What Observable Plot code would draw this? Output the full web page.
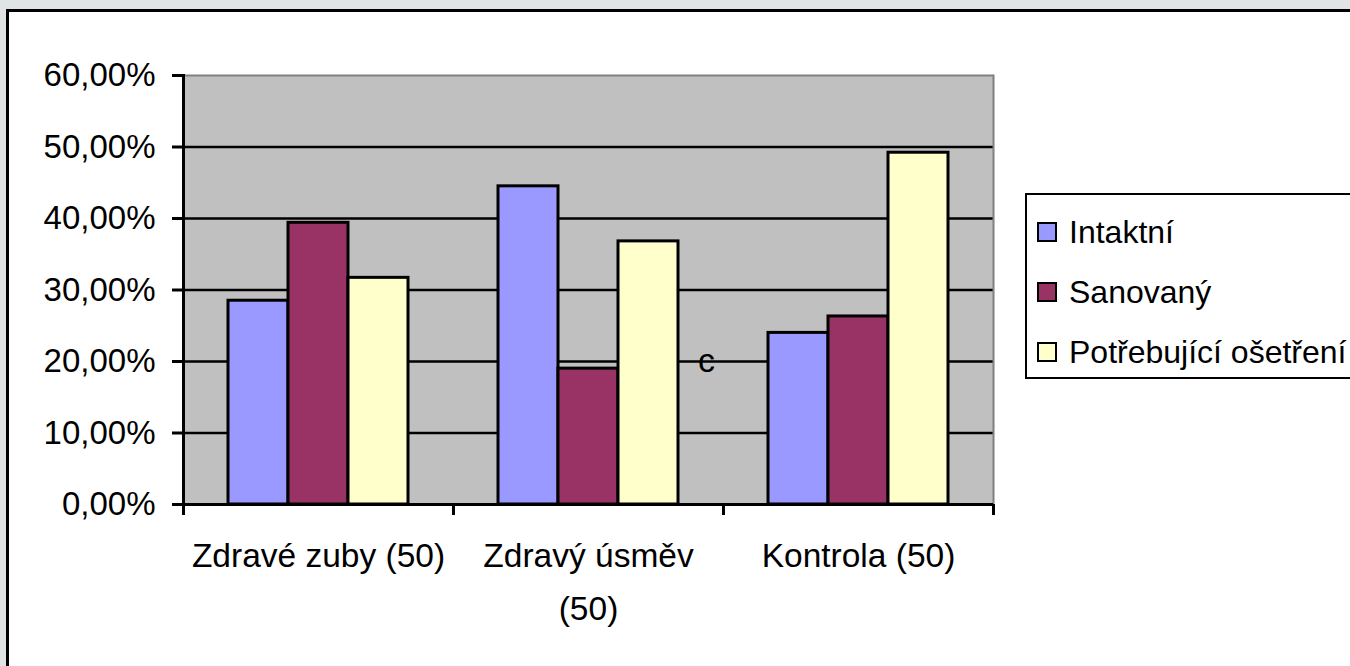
<!DOCTYPE html>
<html>
<head>
<meta charset="utf-8">
<script src="https://cdn.jsdelivr.net/npm/d3@7"></script>
<script src="https://cdn.jsdelivr.net/npm/@observablehq/plot@0.6"></script>
<style>
  html, body { margin: 0; padding: 0; width: 1350px; height: 666px; overflow: hidden; background: #e1e4e5; }
  body { position: relative; font-family: "Liberation Sans", Arial, sans-serif; }
  #frame { position: absolute; left: 6px; top: 9px; width: 1400px; height: 700px; border: 3px solid #000; background: #fff; box-sizing: border-box; }
  #chart { position: absolute; left: 0; top: 0; }
  #legend { position: absolute; left: 1025px; top: 193px; width: 400px; height: 186px; border: 2px solid #000; box-sizing: border-box; background: #fff; }
  .item { position: absolute; left: 10px; height: 40px; display: flex; align-items: center; font-size: 32px; color: #000; white-space: nowrap; }
  .sw { width: 16px; height: 16px; border: 2px solid #000; margin-right: 12px; }
</style>
</head>
<body>
<div id="frame"></div>
<div id="chart"></div>
<div id="legend"></div>
<script>
const categories = ["Zdravé zuby (50)", "Zdravý úsměv (50)", "Kontrola (50)"];
const xTickLabels = ["Zdravé zuby (50)", "Zdravý úsměv\n(50)", "Kontrola (50)"];
const seriesNames = ["Intaktní", "Sanovaný", "Potřebující ošetření"];
const intaktni = [0.285, 0.445, 0.240];
const sanovany = [0.394, 0.190, 0.263];
const potrebujici = [0.317, 0.368, 0.492];
const seriesColors = ["#9999FF", "#993366", "#FFFFCC"];
const yTicks = [0, 0.1, 0.2, 0.3, 0.4, 0.5, 0.6];
const gridValues = [0.1, 0.2, 0.3, 0.4, 0.5];
const noteText = ["c"];
const noteCategory = ["Zdravý úsměv (50)"];
const noteValue = [0.2];

const seriesValues = [intaktni, sanovany, potrebujici];
const table = [];
categories.forEach((c, i) => seriesNames.forEach((s, j) => table.push({category: c, series: s, value: seriesValues[j][i]})));
const notes = noteText.map((t, i) => ({text: t, category: noteCategory[i], value: noteValue[i], series: seriesNames[2]}));
const labelOf = new Map(categories.map((c, i) => [c, xTickLabels[i]]));
const fmt = d => (d * 100).toFixed(2).replace(".", ",") + "%";

const chart = Plot.plot({
  width: 1350,
  height: 666,
  marginLeft: 183,
  marginRight: 357,
  marginTop: 75,
  marginBottom: 162,
  style: {background: "transparent", fontFamily: "'Liberation Sans', Arial, sans-serif", fontSize: "32px", color: "#000"},
  fx: {domain: categories, padding: 0, label: null},
  x: {domain: seriesNames, paddingInner: 0, paddingOuter: 0.75, axis: null},
  y: {domain: [0, 0.6], label: null},
  color: {domain: seriesNames, range: seriesColors},
  marks: [
    Plot.frame({fill: "#C0C0C0", stroke: null, insetLeft: -0.6, insetRight: -0.6}),
    Plot.ruleY(gridValues, {stroke: "#000", strokeWidth: 2.5}),
    Plot.ruleY([0.6], {stroke: "#808080", strokeWidth: 2}),
    Plot.frame({anchor: "right", facetAnchor: "right", stroke: "#808080", strokeWidth: 2}),
    Plot.barY(table, {fx: "category", x: "series", y: "value", fill: "series", stroke: "#000", strokeWidth: 3}),
    Plot.text(notes, {fx: "category", x: "series", y: "value", text: "text", dx: 58, fill: "#000", fontSize: 34}),
    Plot.ruleY([0], {stroke: "#000", strokeWidth: 3}),
    Plot.frame({anchor: "left", facetAnchor: "left", stroke: "#000", strokeWidth: 3}),
    Plot.axisY({ticks: yTicks, tickSize: 11, tickPadding: 17, strokeWidth: 3, tickFormat: fmt, fontSize: 33, label: null}),
    Plot.axisFx({anchor: "bottom", ticks: categories, tickSize: 0, tickPadding: 24, tickFormat: d => labelOf.get(d), lineHeight: 1.6, fontSize: 33.5, label: null}),
    Plot.axisFx({anchor: "bottom", ticks: categories, tickSize: 11, tickFormat: () => "", dx: -135, strokeWidth: 3, label: null}),
    Plot.axisFx({anchor: "bottom", ticks: categories.slice(-1), tickSize: 11, tickFormat: () => "", dx: 135, strokeWidth: 3, label: null})
  ]
});
document.getElementById("chart").appendChild(chart);

const legend = document.getElementById("legend");
seriesNames.forEach((s, i) => {
  const it = document.createElement("div");
  it.className = "item";
  it.style.top = (17 + i * 60) + "px";
  const sw = document.createElement("span");
  sw.className = "sw";
  sw.style.background = seriesColors[i];
  it.appendChild(sw);
  it.appendChild(document.createTextNode(s));
  legend.appendChild(it);
});
</script>
</body>
</html>
